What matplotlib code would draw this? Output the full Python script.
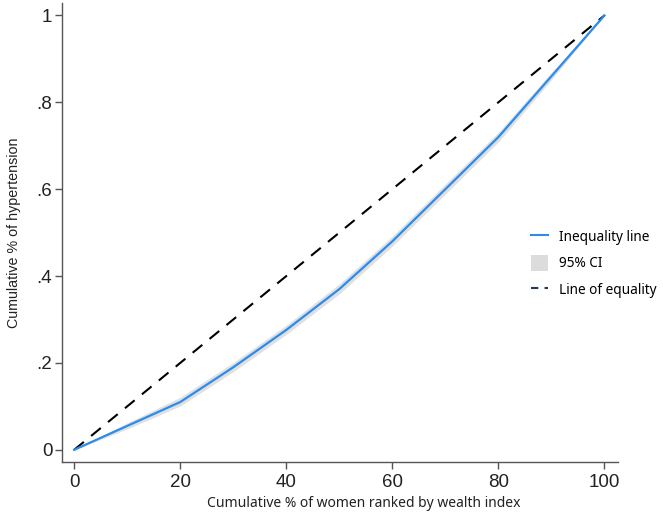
import numpy as np
import matplotlib
matplotlib.use("Agg")
import matplotlib.pyplot as plt
from matplotlib.lines import Line2D
from matplotlib.patches import Patch

# cumulative % of women ranked by wealth index
wealth_pct = [0, 10, 20, 30, 40, 50, 60, 70, 80, 90, 100]
# cumulative share of hypertension (concentration curve)
hyper_cum = [0, 0.055, 0.11, 0.19, 0.276, 0.37, 0.48, 0.60, 0.72, 0.86, 1.0]
ci_low = [0, 0.048, 0.101, 0.180, 0.266, 0.359, 0.469, 0.589, 0.709, 0.852, 1.0]
ci_high = [0, 0.062, 0.121, 0.201, 0.287, 0.382, 0.492, 0.612, 0.731, 0.869, 1.0]
equality = [0, 100]

yticks = [0, 0.2, 0.4, 0.6, 0.8, 1]
ytick_labels = ["0", ".2", ".4", ".6", ".8", "1"]
xticks = [0, 20, 40, 60, 80, 100]

plt.rcParams['font.family'] = ['Liberation Sans', 'DejaVu Sans']

fig = plt.figure(figsize=(6.63, 5.16), dpi=100)
ax = fig.add_axes([0.0935, 0.1047, 0.839, 0.889])

x = np.array(wealth_pct)
ax.fill_between(x, ci_low, ci_high, color='#e0e0e0', lw=0, zorder=1)
ax.plot(x, hyper_cum, color='#2b8cee', lw=1.6, zorder=3)
ax.plot(equality, [e / 100 for e in equality], color='black', lw=1.5,
        dashes=(6, 4.5), zorder=2)

ax.set_xlim(-2.3, 102.6)
ax.set_ylim(-0.028, 1.028)
ax.set_xticks(xticks)
ax.set_yticks(yticks)
ax.set_yticklabels(ytick_labels)

for s in ['top', 'right']:
    ax.spines[s].set_visible(False)
for s in ['left', 'bottom']:
    ax.spines[s].set_color('#555555')
    ax.spines[s].set_linewidth(1.0)
ax.tick_params(direction='out', length=5, width=1, color='#555555',
               labelsize=13.5, labelcolor='#222222')
ax.tick_params(axis='y', pad=2)
ax.tick_params(axis='x', pad=4)

ax.set_ylabel("Cumulative % of hypertension", fontsize=10.3, color='#222222')
ax.yaxis.set_label_coords(-0.074, 0.5)
ax.set_xlabel("Cumulative % of women ranked by wealth index", fontsize=10,
              color='#222222', family=['Noto Sans', 'DejaVu Sans'])
ax.xaxis.set_label_coords(0.543, -0.074)

handles = [
    Line2D([], [], color='#2b8cee', lw=1.5),
    Patch(facecolor='#dcdcdc', edgecolor='none'),
    Line2D([], [], color='#1f3b5a', lw=1.5, dashes=(3.5, 3)),
]
labels = ["Inequality line", "95% CI", "Line of equality"]
fig.legend(handles, labels, loc='center left', bbox_to_anchor=(0.782, 0.49),
           frameon=False, handlelength=1.3, handleheight=1.4, handletextpad=0.8,
           labelspacing=0.75,
           prop={'family': ['Noto Sans', 'DejaVu Sans'], 'size': 9.8})

fig.savefig("out.png", dpi=100)
